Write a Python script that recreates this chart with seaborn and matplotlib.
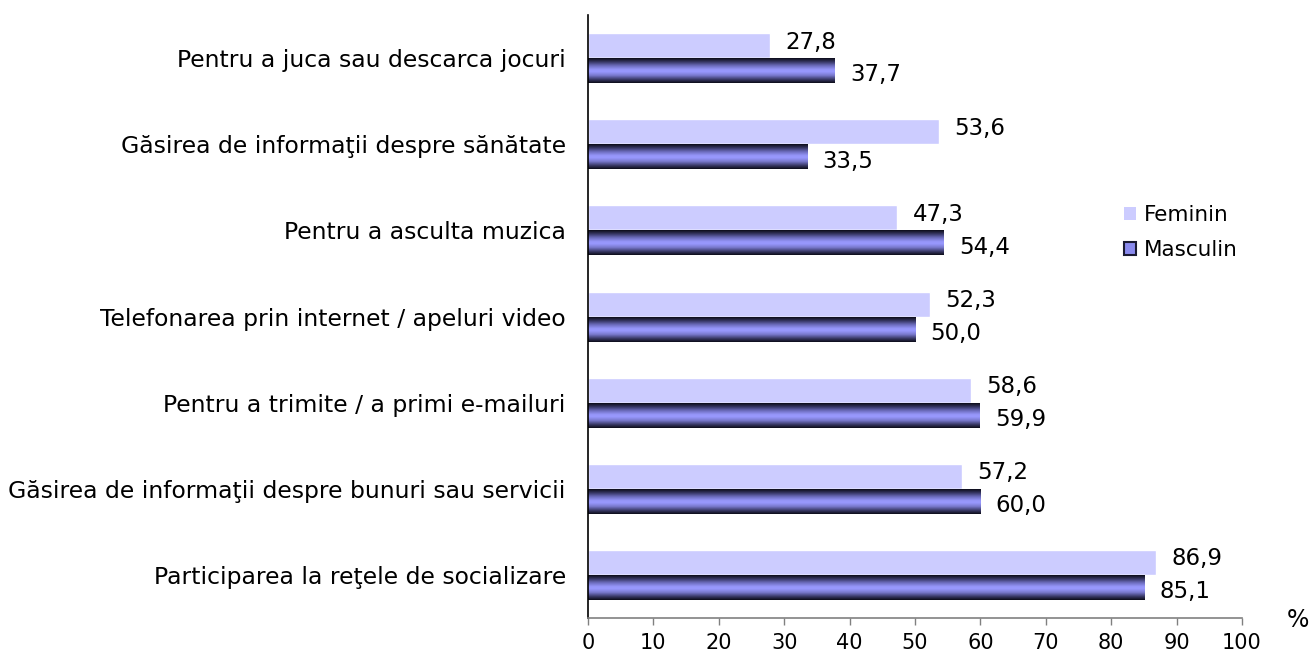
import numpy as np
import pandas as pd
import seaborn as sns
import matplotlib.pyplot as plt
from matplotlib.colors import LinearSegmentedColormap
from matplotlib.patches import Patch

categories = [
    "Pentru a juca sau descarca jocuri",
    "Găsirea de informaţii despre sănătate",
    "Pentru a asculta muzica",
    "Telefonarea prin internet / apeluri video",
    "Pentru a trimite / a primi e-mailuri",
    "Găsirea de informaţii despre bunuri sau servicii",
    "Participarea la reţele de socializare",
]
feminin = [27.8, 53.6, 47.3, 52.3, 58.6, 57.2, 86.9]
masculin = [37.7, 33.5, 54.4, 50.0, 59.9, 60.0, 85.1]
series = ["Feminin", "Masculin"]
x_ticks = list(range(0, 101, 10))

sns.set_theme(style="white")
plt.rcParams["font.family"] = ["DejaVu Sans"]
plt.rcParams["text.color"] = "#000000"

df = pd.DataFrame({
    "categorie": categories * 2,
    "sex": [series[0]] * len(categories) + [series[1]] * len(categories),
    "valoare": feminin + masculin,
})

fig = plt.figure(figsize=(13.16, 6.57), dpi=100)
ax = fig.add_axes([0.4468, 0.0594, 0.4970, 0.9176])

sns.barplot(data=df, y="categorie", x="valoare", hue="sex", orient="h",
            palette={"Feminin": "#CCCCFF", "Masculin": "#9999FF"},
            width=0.58, saturation=1, legend=False, ax=ax, errorbar=None)

# gradient fill for the Masculin bars
grad_cmap = LinearSegmentedColormap.from_list("masc", [
    (0.0, "#0d0d1a"), (0.12, "#2e2e55"), (0.3, "#6b6bbb"),
    (0.45, "#9595f8"), (0.55, "#9999ff"), (0.7, "#7878cc"),
    (0.88, "#33335c"), (1.0, "#0d0d1a")])
grad = np.linspace(0, 1, 64).reshape(-1, 1)
for bar in ax.containers[1]:
    x0, y0 = bar.get_x(), bar.get_y()
    w, h = bar.get_width(), bar.get_height()
    ax.imshow(grad, cmap=grad_cmap, aspect="auto", interpolation="bilinear",
              extent=(x0, x0 + w, y0 + h, y0), zorder=bar.get_zorder() + 0.1)

ax.set_xlim(0, 100)
ax.set_ylim(len(categories) - 0.5, -0.5)

# value labels
for cont, dy in zip(ax.containers, (-0.04, 0.05)):
    for bar in cont:
        val = bar.get_width()
        ax.annotate(f"{val:.1f}".replace(".", ","),
                    (val, bar.get_y() + bar.get_height() / 2 + dy),
                    xytext=(11, 0), textcoords="offset points",
                    va="center", ha="left", fontsize=16.5, color="#000000")

ax.set_xticks(x_ticks)
ax.set_xlabel("")
ax.set_ylabel("")
ax.tick_params(axis="x", direction="out", length=5, width=1, color="#808080",
               labelsize=15, labelcolor="#000000", pad=6, bottom=True)
ax.tick_params(axis="y", length=0, labelsize=16.9, labelcolor="#000000", pad=16)
for side in ("top", "right"):
    ax.spines[side].set_visible(False)
ax.spines["left"].set_color("#000000")
ax.spines["left"].set_linewidth(1.2)
ax.spines["bottom"].set_color("#808080")
ax.spines["bottom"].set_linewidth(1.2)

handles = [Patch(facecolor="#CCCCFF", edgecolor="none"),
           Patch(facecolor="#8a8aee", edgecolor="#1a1a33", linewidth=1.5)]
fig.legend(handles, series, loc="upper left", bbox_to_anchor=(0.8397, 0.717),
           frameon=False, fontsize=15.5, handlelength=0.55, handleheight=0.55,
           handletextpad=0.35, labelspacing=0.7)

fig.text(0.995, 0.056, "%", fontsize=17, ha="right", va="center")

fig.savefig("out.png", dpi=100)
